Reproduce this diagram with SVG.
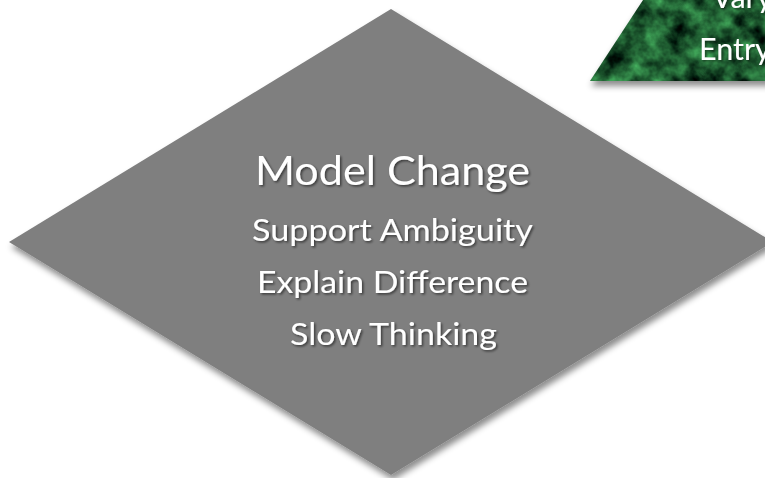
<svg xmlns="http://www.w3.org/2000/svg" width="765" height="478" viewBox="0 0 765 478">
  <defs>
    <filter id="shapeShadow" x="-10%" y="-10%" width="120%" height="125%">
      <feDropShadow dx="2" dy="5" stdDeviation="3" flood-color="#000" flood-opacity="0.45"/>
    </filter>
    <filter id="textShadow" x="-5%" y="-20%" width="110%" height="150%">
      <feDropShadow dx="1.5" dy="1.5" stdDeviation="1" flood-color="#000" flood-opacity="0.55"/>
    </filter>
    <filter id="marbleFill" x="-5%" y="-5%" width="110%" height="140%" color-interpolation-filters="sRGB">
      <feTurbulence type="fractalNoise" baseFrequency="0.045" numOctaves="4" seed="7" result="noise"/>
      <feColorMatrix in="noise" type="matrix" values="0.5 0 0 0 -0.13  1.1 0 0 0 -0.19  0.6 0 0 0 -0.11  0 0 0 0 1" result="green"/>
      <feComposite in="green" in2="SourceAlpha" operator="in" result="tex"/>
      <feGaussianBlur in="SourceAlpha" stdDeviation="3" result="b"/>
      <feOffset in="b" dx="1" dy="5" result="ob"/>
      <feFlood flood-color="#000" flood-opacity="0.45"/>
      <feComposite in2="ob" operator="in" result="sh"/>
      <feMerge>
        <feMergeNode in="sh"/>
        <feMergeNode in="tex"/>
      </feMerge>
    </filter>
  </defs>
  <style>
    .lbl { font-family: Lato, "Open Sans", "Liberation Sans", sans-serif; fill: #ffffff; filter: url(#textShadow); }
    .big { font-size: 41.5px; }
    .small { font-size: 30.5px; }
    .mid { text-anchor: middle; }
  </style>
  <rect width="765" height="478" fill="#ffffff"/>
  <g id="connectors"/>
  <g id="node-green">
    <polygon points="590,81 643,0 800,0 800,81" fill="#1e5a30" filter="url(#marbleFill)"/>
    <text class="lbl small" x="712" y="8">Vary</text>
    <text class="lbl small" x="699" y="60">Entry</text>
  </g>
  <g id="node-model-change">
    <polygon points="391,9 773,242 391,475 9,242" fill="#7f7f7f" filter="url(#shapeShadow)"/>
    <text class="lbl big mid" x="392.5" y="185" textLength="275" lengthAdjust="spacingAndGlyphs">Model Change</text>
    <text class="lbl small mid" x="392.5" y="240.5" textLength="281" lengthAdjust="spacingAndGlyphs">Support Ambiguity</text>
    <text class="lbl small mid" x="392.5" y="292.7" textLength="271" lengthAdjust="spacingAndGlyphs">Explain Difference</text>
    <text class="lbl small mid" x="393.5" y="345" textLength="207" lengthAdjust="spacingAndGlyphs">Slow Thinking</text>
  </g>
</svg>
